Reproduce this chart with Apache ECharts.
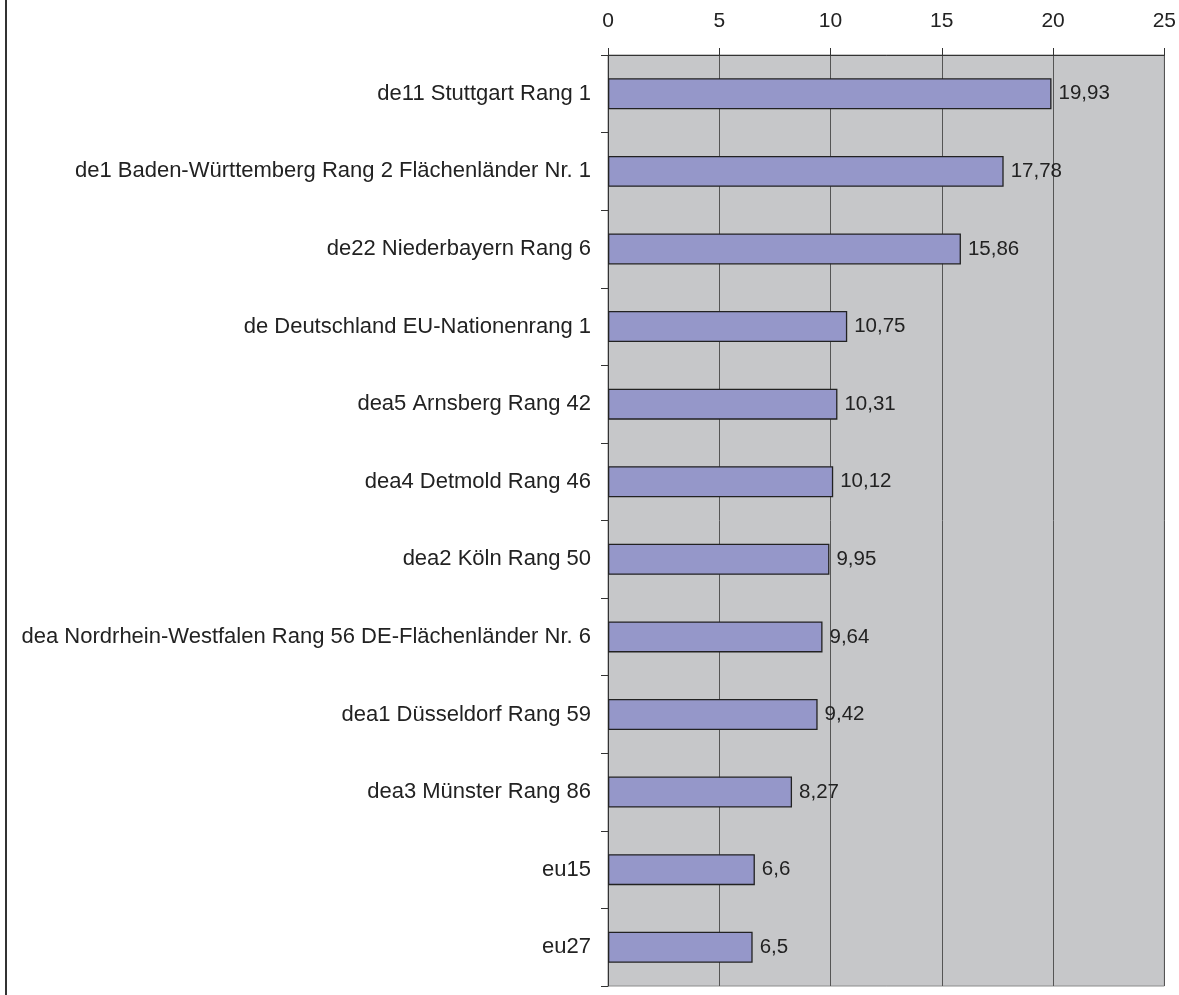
<!DOCTYPE html>
<html>
<head>
<meta charset="utf-8">
<script src="https://cdn.jsdelivr.net/npm/echarts@6/dist/echarts.min.js"></script>
<style>
  html, body { margin: 0; padding: 0; background: #ffffff; }
  #chart { width: 1179px; height: 995px; }
</style>
</head>
<body>
<div id="chart"></div>
<script>
// Regions, top to bottom
const regions = [
  'de11 Stuttgart Rang 1',
  'de1 Baden-Württemberg Rang 2 Flächenländer Nr. 1',
  'de22 Niederbayern Rang 6',
  'de Deutschland EU-Nationenrang 1',
  'dea5 Arnsberg Rang 42',
  'dea4 Detmold Rang 46',
  'dea2 Köln Rang 50',
  'dea Nordrhein-Westfalen Rang 56 DE-Flächenländer Nr. 6',
  'dea1 Düsseldorf Rang 59',
  'dea3 Münster Rang 86',
  'eu15',
  'eu27'
];

// Values per region
const values = [19.93, 17.78, 15.86, 10.75, 10.31, 10.12, 9.95, 9.64, 9.42, 8.27, 6.6, 6.5];

// Value axis
const axisMin = 0;
const axisMax = 25;
const axisStep = 5;

const fontFamily = 'Liberation Sans, Arial, sans-serif';
const chart = echarts.init(document.getElementById('chart'), null, { renderer: 'canvas' });

chart.setOption({
  animation: false,
  backgroundColor: '#ffffff',
  graphic: [{
    type: 'line',
    shape: { x1: 6, y1: 0, x2: 6, y2: 995 },
    style: { stroke: '#333333', lineWidth: 2 }
  }],
  grid: {
    left: 608, right: 13, top: 55, bottom: 9,
    show: true,
    backgroundColor: '#c6c7c9',
    borderColor: '#8c8c8c',
    borderWidth: 1
  },
  xAxis: {
    type: 'value',
    position: 'top',
    min: axisMin, max: axisMax, interval: axisStep,
    axisLine: { show: true, lineStyle: { color: '#333333', width: 1 } },
    axisTick: { show: true, length: 7, lineStyle: { color: '#333333' } },
    axisLabel: { color: '#222222', fontSize: 21, fontFamily: fontFamily, margin: 23 },
    splitLine: { show: true, lineStyle: { color: '#555555', width: 1 } }
  },
  yAxis: {
    type: 'category',
    data: regions,
    inverse: true,
    axisLine: { show: true, lineStyle: { color: '#333333', width: 1 } },
    axisTick: { show: true, length: 7, lineStyle: { color: '#333333' } },
    axisLabel: { color: '#222222', fontSize: 22, fontFamily: fontFamily, margin: 17 }
  },
  series: [{
    type: 'bar',
    data: values,
    barWidth: 31,
    itemStyle: { color: '#9597c9', borderColor: '#222222', borderWidth: 1.3 },
    label: {
      show: true,
      position: 'right',
      distance: 7,
      color: '#222222',
      fontSize: 20.5,
      fontFamily: fontFamily,
      formatter: p => String(p.value).replace('.', ',')
    }
  }]
});
</script>
</body>
</html>
